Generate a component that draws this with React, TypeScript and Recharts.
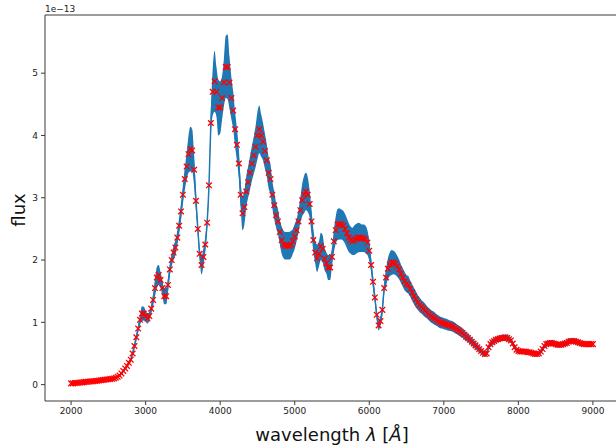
import React from "react";
import { ComposedChart, Area, Line, Scatter, XAxis, YAxis, ReferenceLine } from "recharts";

const wavelengths = [
  2000, 2025, 2050, 2075, 2100, 2125, 2150, 2175, 2200, 2225, 2250, 2275, 2300, 2325, 2350, 2375,
  2400, 2425, 2450, 2475, 2500, 2525, 2550, 2575, 2600, 2625, 2650, 2675, 2700, 2725, 2750, 2775,
  2800, 2825, 2850, 2875, 2900, 2925, 2950, 2975, 3000, 3025, 3050, 3075, 3100, 3125, 3150, 3175,
  3200, 3225, 3250, 3275, 3300, 3325, 3350, 3375, 3400, 3425, 3450, 3475, 3500, 3525, 3550, 3575,
  3600, 3625, 3650, 3675, 3700, 3725, 3750, 3775, 3800, 3825, 3850, 3875, 3900, 3925, 3950, 3975,
  4000, 4025, 4050, 4075, 4100, 4125, 4150, 4175, 4200, 4225, 4250, 4275, 4300, 4325, 4350, 4375,
  4400, 4425, 4450, 4475, 4500, 4525, 4550, 4575, 4600, 4625, 4650, 4675, 4700, 4725, 4750, 4775,
  4800, 4825, 4850, 4875, 4900, 4925, 4950, 4975, 5000, 5025, 5050, 5075, 5100, 5125, 5150, 5175,
  5200, 5225, 5250, 5275, 5300, 5325, 5350, 5375, 5400, 5425, 5450, 5475, 5500, 5525, 5550, 5575,
  5600, 5625, 5650, 5675, 5700, 5725, 5750, 5775, 5800, 5825, 5850, 5875, 5900, 5925, 5950, 5975,
  6000, 6025, 6050, 6075, 6100, 6125, 6150, 6175, 6200, 6225, 6250, 6275, 6300, 6325, 6350, 6375,
  6400, 6425, 6450, 6475, 6500, 6525, 6550, 6575, 6600, 6625, 6650, 6675, 6700, 6725, 6750, 6775,
  6800, 6825, 6850, 6875, 6900, 6925, 6950, 6975, 7000, 7025, 7050, 7075, 7100, 7125, 7150, 7175,
  7200, 7225, 7250, 7275, 7300, 7325, 7350, 7375, 7400, 7425, 7450, 7475, 7500, 7525, 7550, 7575,
  7600, 7625, 7650, 7675, 7700, 7725, 7750, 7775, 7800, 7825, 7850, 7875, 7900, 7925, 7950, 7975,
  8000, 8025, 8050, 8075, 8100, 8125, 8150, 8175, 8200, 8225, 8250, 8275, 8300, 8325, 8350, 8375,
  8400, 8425, 8450, 8475, 8500, 8525, 8550, 8575, 8600, 8625, 8650, 8675, 8700, 8725, 8750, 8775,
  8800, 8825, 8850, 8875, 8900, 8925, 8950, 8975, 9000,
];

// flux in units of 1e-13
const flux = [
  0.02, 0.02, 0.025, 0.025, 0.03, 0.033, 0.036, 0.04, 0.045, 0.047, 0.05, 0.052, 0.055, 0.058, 0.062, 0.066,
  0.07, 0.074, 0.078, 0.082, 0.085, 0.09, 0.095, 0.1, 0.11, 0.125, 0.145, 0.18, 0.22, 0.26, 0.3, 0.35,
  0.4, 0.5, 0.62, 0.76, 0.9, 1.04, 1.14, 1.14, 1.1, 1.06, 1.1, 1.22, 1.36, 1.55, 1.72, 1.76,
  1.68, 1.55, 1.42, 1.42, 1.6, 1.85, 2.0, 2.12, 2.2, 2.36, 2.55, 2.78, 3.05, 3.3, 3.5, 3.7,
  3.78, 3.76, 3.45, 2.95, 2.5, 2.1, 1.92, 2.05, 2.25, 2.6, 3.2, 4.2, 4.7, 4.87, 4.7, 4.45,
  4.45, 4.6, 4.85, 5.1, 5.1, 4.85, 4.6, 4.4, 4.1, 3.85, 3.55, 3.05, 2.75, 2.85, 3.1, 3.25,
  3.4, 3.55, 3.68, 3.82, 4.0, 4.1, 4.0, 3.9, 3.75, 3.6, 3.4, 3.3, 3.05, 2.88, 2.72, 2.62,
  2.45, 2.32, 2.25, 2.23, 2.23, 2.23, 2.25, 2.3, 2.38, 2.48, 2.62, 2.8, 2.96, 3.05, 3.1, 3.05,
  2.9, 2.62, 2.32, 2.12, 2.03, 2.1, 2.22, 2.18, 2.02, 1.95, 1.88, 1.88, 2.05, 2.3, 2.48, 2.57,
  2.58, 2.57, 2.55, 2.5, 2.43, 2.36, 2.32, 2.3, 2.32, 2.34, 2.36, 2.36, 2.35, 2.35, 2.33, 2.28,
  2.15, 1.92, 1.65, 1.4, 1.12, 0.95, 1.02, 1.2, 1.55, 1.72, 1.86, 1.93, 1.96, 1.96, 1.94, 1.9,
  1.85, 1.78, 1.72, 1.66, 1.62, 1.6, 1.54, 1.48, 1.42, 1.37, 1.32, 1.28, 1.25, 1.22, 1.19, 1.16,
  1.13, 1.1, 1.08, 1.06, 1.04, 1.02, 1.0, 0.99, 0.98, 0.97, 0.96, 0.95, 0.94, 0.93, 0.91, 0.89,
  0.87, 0.85, 0.83, 0.8, 0.77, 0.75, 0.72, 0.69, 0.66, 0.63, 0.6, 0.57, 0.54, 0.51, 0.49, 0.5,
  0.6, 0.65, 0.68, 0.7, 0.72, 0.73, 0.74, 0.75, 0.75, 0.76, 0.75, 0.73, 0.71, 0.66, 0.6, 0.56,
  0.54, 0.53, 0.53, 0.53, 0.53, 0.52, 0.52, 0.51, 0.5, 0.49, 0.49, 0.5, 0.53, 0.57, 0.62, 0.65,
  0.66, 0.67, 0.67, 0.66, 0.65, 0.64, 0.64, 0.64, 0.65, 0.66, 0.67, 0.69, 0.7, 0.7, 0.7, 0.69,
  0.68, 0.67, 0.66, 0.65, 0.65, 0.65, 0.65, 0.65, 0.65,
];

// half-width of the uncertainty band, 1e-13
const fluxErr = [
  0.015, 0.015, 0.015, 0.015, 0.015, 0.015, 0.015, 0.015, 0.015, 0.015, 0.015, 0.015, 0.015, 0.015, 0.015, 0.015,
  0.015, 0.015, 0.015, 0.015, 0.015, 0.015, 0.015, 0.015, 0.015, 0.015, 0.015, 0.02, 0.02, 0.025, 0.03, 0.03,
  0.035, 0.04, 0.045, 0.05, 0.06, 0.08, 0.12, 0.11, 0.09, 0.08, 0.07, 0.08, 0.1, 0.14, 0.17, 0.16,
  0.13, 0.12, 0.13, 0.13, 0.12, 0.1, 0.1, 0.11, 0.12, 0.12, 0.13, 0.14, 0.15, 0.18, 0.22, 0.3,
  0.36, 0.34, 0.25, 0.15, 0.1, 0.1, 0.15, 0.14, 0.12, 0.1, 0.1, 0.2, 0.38, 0.49, 0.4, 0.45,
  0.42, 0.35, 0.38, 0.5, 0.52, 0.42, 0.34, 0.3, 0.28, 0.26, 0.24, 0.22, 0.27, 0.28, 0.25, 0.25,
  0.27, 0.28, 0.3, 0.33, 0.38, 0.38, 0.34, 0.3, 0.28, 0.26, 0.25, 0.24, 0.22, 0.22, 0.2, 0.2,
  0.2, 0.22, 0.22, 0.22, 0.22, 0.22, 0.22, 0.2, 0.2, 0.18, 0.18, 0.2, 0.26, 0.3, 0.3, 0.28,
  0.22, 0.2, 0.18, 0.18, 0.22, 0.2, 0.22, 0.22, 0.18, 0.17, 0.2, 0.2, 0.15, 0.18, 0.22, 0.25,
  0.25, 0.24, 0.24, 0.24, 0.24, 0.23, 0.22, 0.22, 0.24, 0.24, 0.24, 0.23, 0.22, 0.22, 0.22, 0.2,
  0.16, 0.12, 0.1, 0.09, 0.08, 0.08, 0.08, 0.09, 0.1, 0.14, 0.17, 0.19, 0.2, 0.19, 0.18, 0.17,
  0.16, 0.15, 0.15, 0.15, 0.14, 0.14, 0.13, 0.13, 0.13, 0.13, 0.12, 0.12, 0.11, 0.11, 0.11, 0.1,
  0.1, 0.1, 0.1, 0.1, 0.095, 0.095, 0.095, 0.09, 0.09, 0.09, 0.09, 0.085, 0.085, 0.085, 0.085, 0.08,
  0.08, 0.08, 0.075, 0.075, 0.07, 0.07, 0.065, 0.065, 0.06, 0.06, 0.055, 0.055, 0.05, 0.05, 0.045, 0.045,
  0.045, 0.05, 0.05, 0.05, 0.05, 0.05, 0.05, 0.05, 0.05, 0.05, 0.05, 0.05, 0.045, 0.045, 0.04, 0.04,
  0.04, 0.04, 0.04, 0.04, 0.04, 0.04, 0.04, 0.04, 0.04, 0.04, 0.04, 0.04, 0.04, 0.04, 0.04, 0.045,
  0.045, 0.045, 0.045, 0.045, 0.045, 0.045, 0.045, 0.045, 0.045, 0.045, 0.045, 0.045, 0.045, 0.045, 0.045, 0.045,
  0.045, 0.045, 0.04, 0.04, 0.04, 0.04, 0.04, 0.04, 0.04,
];

const xTicks = [2000, 3000, 4000, 5000, 6000, 7000, 8000, 9000];
const yTicks = [0, 1, 2, 3, 4, 5];
const yDomain: [number, number] = [-0.263, 5.934];

const data = wavelengths.map((wl, i) => ({
  wl,
  flux: flux[i],
  band: [flux[i] - fluxErr[i], flux[i] + fluxErr[i]],
}));

const FONT = "DejaVu Sans, sans-serif";
const AXIS = "#3a3a3a";

const XMark = (props: any) => {
  const { cx, cy } = props;
  if (cx == null || cy == null) return null;
  const s = 2.8;
  return (
    <path
      d={`M${cx - s},${cy - s}L${cx + s},${cy + s}M${cx - s},${cy + s}L${cx + s},${cy - s}`}
      stroke="#ff0000"
      strokeWidth={1.3}
      fill="none"
    />
  );
};

export default function App() {
  return (
    <div style={{ position: "absolute", left: 0, top: 0, width: 616, height: 448, overflow: "hidden", background: "#fff" }}>
      <ComposedChart
        width={640}
        height={448}
        data={data}
        margin={{ top: 15, right: 21, bottom: 0, left: 0 }}
      >
        <XAxis
          dataKey="wl"
          type="number"
          domain={[1650, 9350]}
          ticks={xTicks}
          allowDataOverflow
          height={47}
          tickSize={4}
          tickMargin={3}
          stroke={AXIS}
          tick={{ fontSize: 9, fill: "#222", fontFamily: FONT }}
        />
        <YAxis
          type="number"
          domain={yDomain}
          ticks={yTicks}
          allowDataOverflow
          width={45}
          tickSize={4}
          tickMargin={3}
          stroke={AXIS}
          tick={{ fontSize: 9, fill: "#222", fontFamily: FONT }}
        />
        <ReferenceLine y={yDomain[1]} stroke={AXIS} strokeWidth={1} ifOverflow="extendDomain" />
        <Area
          dataKey="band"
          type="monotone"
          stroke="none"
          fill="#1f77b4"
          fillOpacity={1}
          isAnimationActive={false}
          activeDot={false}
        />
        <Line
          dataKey="flux"
          type="monotone"
          stroke="#1f77b4"
          strokeWidth={1.5}
          dot={false}
          activeDot={false}
          isAnimationActive={false}
        />
        <Scatter dataKey="flux" shape={XMark} isAnimationActive={false} />
      </ComposedChart>
      <svg
        width={616}
        height={448}
        style={{ position: "absolute", left: 0, top: 0, pointerEvents: "none" }}
      >
        <text x={45} y={12} fontSize={9} fill="#222" fontFamily={FONT}>
          1e−13
        </text>
        <text
          x={25}
          y={210}
          fontSize={18}
          fill="#111"
          fontFamily={FONT}
          textAnchor="middle"
          transform="rotate(-90 25 210)"
        >
          flux
        </text>
        <text x={332} y={441} fontSize={18} fill="#111" fontFamily={FONT} textAnchor="middle">
          wavelength <tspan fontStyle="italic">λ</tspan> [<tspan fontStyle="italic">Å</tspan>]
        </text>
      </svg>
    </div>
  );
}
